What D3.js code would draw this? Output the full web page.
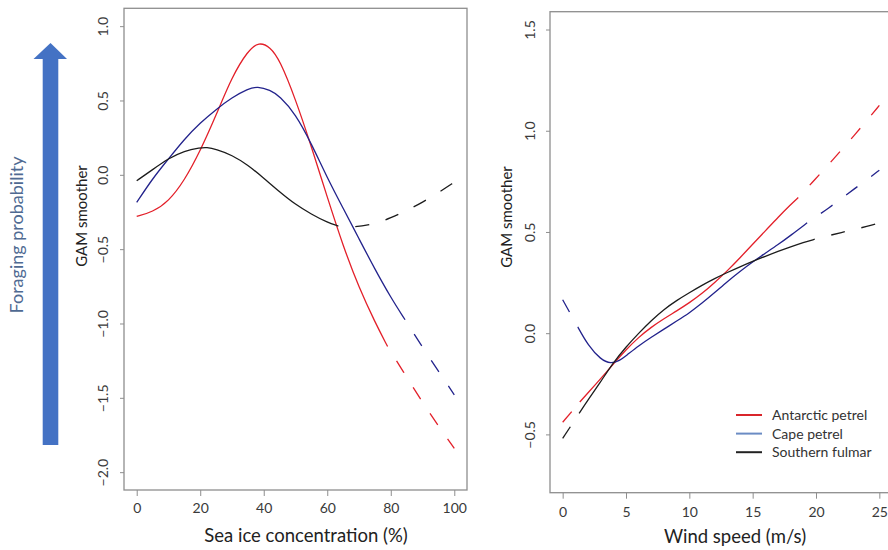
<!DOCTYPE html>
<html>
<head>
<meta charset="utf-8">
<script src="https://cdn.jsdelivr.net/npm/d3@7"></script>
<style>
  body { margin: 0; background: #fff; }
  svg { display: block; font-family: Lato, "Open Sans", sans-serif; }
</style>
</head>
<body>
<svg id="chart" width="888" height="550"></svg>
<script>
// left panel: sea ice concentration (%)
const iceTicksX = [0, 20, 40, 60, 80, 100];
const iceTicksY = [-2, -1.5, -1, -0.5, 0, 0.5, 1];
const iceRedX = [0, 5, 10, 15, 20, 25, 30, 35, 38.5, 42, 45, 50, 55, 60, 65, 70, 75, 79, 85, 90, 95, 100];
const iceRedY = [-0.28, -0.25, -0.18, -0.04, 0.16, 0.4, 0.66, 0.835, 0.895, 0.86, 0.775, 0.51, 0.19, -0.15, -0.48, -0.76, -0.99, -1.155, -1.36, -1.53, -1.69, -1.84];
const iceBlueX = [0, 5, 10, 15, 20, 25, 30, 35, 38, 42, 45, 50, 55, 60, 65, 70, 75, 80, 84.5, 90, 95, 100];
const iceBlueY = [-0.186, -0.025, 0.107, 0.24, 0.35, 0.44, 0.52, 0.578, 0.595, 0.57, 0.53, 0.41, 0.21, -0.02, -0.225, -0.43, -0.635, -0.825, -0.975, -1.16, -1.32, -1.48];
const iceBlackX = [0, 5, 10, 15, 20, 22, 25, 30, 35, 40, 45, 50, 55, 60, 63.5, 68, 75, 80, 85, 90, 95, 100];
const iceBlackY = [-0.04, 0.035, 0.11, 0.162, 0.182, 0.185, 0.172, 0.133, 0.066, -0.022, -0.115, -0.2, -0.265, -0.32, -0.345, -0.355, -0.33, -0.29, -0.24, -0.185, -0.12, -0.05];
// solid part = observed range, rest dashed
const iceSolid = { red: [0, 79], blue: [0, 84.5], black: [0, 63.5] };

// right panel: wind speed (m/s)
const windTicksX = [0, 5, 10, 15, 20, 25];
const windTicksY = [-0.5, 0, 0.5, 1, 1.5];
const windRedX = [0, 1.35, 2, 3, 4, 5, 6, 7, 8, 9, 10, 11, 12, 13, 14, 15, 16, 17, 18, 18.6, 20, 21, 22, 23, 24, 25];
const windRedY = [-0.44, -0.34, -0.295, -0.225, -0.152, -0.082, -0.02, 0.03, 0.072, 0.11, 0.15, 0.195, 0.25, 0.308, 0.372, 0.44, 0.505, 0.572, 0.635, 0.67, 0.765, 0.833, 0.905, 0.975, 1.05, 1.125];
const windBlueX = [0, 1.2, 2, 3, 3.8, 4.5, 5, 6, 7, 8, 9, 10, 11, 12, 13, 14, 15, 16, 17, 18, 19.3, 20, 21, 22, 23, 24, 25];
const windBlueY = [0.165, 0.03, -0.06, -0.13, -0.152, -0.135, -0.112, -0.062, -0.02, 0.02, 0.06, 0.1, 0.148, 0.2, 0.255, 0.305, 0.352, 0.395, 0.437, 0.483, 0.545, 0.575, 0.618, 0.665, 0.712, 0.757, 0.805];
const windBlackX = [0, 1.3, 2, 3, 4, 5, 6, 7, 8, 9, 10, 11, 12, 13, 14, 15, 16, 17, 18, 19, 19.9, 21, 22, 23, 24, 25];
const windBlackY = [-0.52, -0.396, -0.33, -0.24, -0.145, -0.068, 0.0, 0.063, 0.118, 0.162, 0.2, 0.237, 0.27, 0.3, 0.328, 0.355, 0.38, 0.404, 0.427, 0.448, 0.464, 0.482, 0.497, 0.512, 0.527, 0.545];
const windSolid = { red: [1.35, 18.6], blue: [1.2, 19.3], black: [1.3, 19.9] };

const species = ["Antarctic petrel", "Cape petrel", "Southern fulmar"];
const colors = { red: "#e3202a", blue: "#23238c", black: "#1c1c1c" };
const legendColors = ["#d9252b", "#6b8cc4", "#222222"];

const svg = d3.select("#chart");
const boxColor = "#8e8e8e";
const dash = "14 17";

function zip(xs, ys) { return xs.map((x, i) => ({ x: x, y: ys[i] })); }

function panel(opt) {
  const g = svg.append("g");
  const x = d3.scaleLinear().domain(opt.xDomain).range(opt.xRange);
  const y = d3.scaleLinear().domain(opt.yDomain).range(opt.yRange);

  const clipId = opt.id + "-clip";
  svg.append("clipPath").attr("id", clipId)
    .append("rect")
    .attr("x", opt.xRange[0]).attr("y", opt.yRange[1])
    .attr("width", opt.xRange[1] - opt.xRange[0])
    .attr("height", opt.yRange[0] - opt.yRange[1]);

  const line = d3.line().x(d => x(d.x)).y(d => y(d.y)).curve(d3.curveBasis);
  const plot = g.append("g").attr("clip-path", "url(#" + clipId + ")");

  opt.series.forEach(s => {
    const pts = zip(s.xs, s.ys);
    const lo = s.solid[0], hi = s.solid[1];
    const solid = pts.filter(d => d.x >= lo && d.x <= hi);
    const head = pts.filter(d => d.x <= lo);
    const tail = pts.filter(d => d.x >= hi);
    plot.append("path").datum(solid)
      .attr("d", line).attr("fill", "none")
      .attr("stroke", s.color).attr("stroke-width", 1.3);
    if (head.length > 1) {
      plot.append("path").datum(head)
        .attr("d", line).attr("fill", "none")
        .attr("stroke", s.color).attr("stroke-width", 1.3)
        .attr("stroke-dasharray", dash);
    }
    if (tail.length > 1) {
      plot.append("path").datum(tail)
        .attr("d", line).attr("fill", "none")
        .attr("stroke", s.color).attr("stroke-width", 1.3)
        .attr("stroke-dasharray", dash).attr("stroke-dashoffset", 14);
    }
  });

  // box
  g.append("rect")
    .attr("x", opt.xRange[0]).attr("y", opt.yRange[1])
    .attr("width", opt.xRange[1] - opt.xRange[0])
    .attr("height", opt.yRange[0] - opt.yRange[1])
    .attr("fill", "none").attr("stroke", boxColor).attr("stroke-width", 1.3);

  const xAxis = g.append("g")
    .attr("transform", "translate(0," + opt.yRange[0] + ")")
    .call(d3.axisBottom(x).tickValues(opt.xTicks).tickSize(6).tickSizeOuter(0).tickFormat(d3.format("d")));
  xAxis.select(".domain").remove();
  xAxis.selectAll("line").attr("stroke", boxColor);
  xAxis.selectAll("text")
    .attr("y", opt.xLabelOffset).attr("dy", "0.35em")
    .attr("fill", "#3a3a3a").style("font-size", "14px").style("font-family", "Lato, sans-serif");

  const yAxis = g.append("g")
    .attr("transform", "translate(" + opt.xRange[0] + ",0)")
    .call(d3.axisLeft(y).tickValues(opt.yTicks).tickSize(4).tickSizeOuter(0).tickFormat(d3.format(".1f")));
  yAxis.select(".domain").remove();
  yAxis.selectAll("line").attr("stroke", boxColor);
  yAxis.selectAll("text")
    .attr("x", 0).attr("y", 0).attr("dy", "0.35em")
    .attr("text-anchor", "middle")
    .attr("transform", "translate(" + opt.yLabelOffset + ",0) rotate(-90)")
    .attr("fill", "#3a3a3a").style("font-size", "14px").style("font-family", "Lato, sans-serif");

  g.append("text")
    .attr("transform", "translate(" + opt.yTitleX + "," + opt.yTitleY + ") rotate(-90)")
    .attr("text-anchor", "middle").attr("dy", "0.35em")
    .attr("fill", "#222").style("font-size", "15px")
    .text("GAM smoother");

  g.append("text")
    .attr("x", opt.xTitleX).attr("y", opt.xTitleY)
    .attr("text-anchor", "middle").attr("dy", "0.35em")
    .attr("fill", "#222").style("font-size", "18.5px")
    .text(opt.xTitle);

  return { x: x, y: y };
}

panel({
  id: "ice",
  xDomain: [-4, 104], xRange: [124, 467],
  yDomain: [-2.12, 1.12], yRange: [490, 8.3],
  xTicks: iceTicksX, yTicks: iceTicksY,
  xLabelOffset: 18, yLabelOffset: -21,
  yTitleX: 82, yTitleY: 216,
  xTitleX: 306, xTitleY: 536,
  xTitle: "Sea ice concentration (%)",
  series: [
    { xs: iceRedX, ys: iceRedY, color: colors.red, solid: iceSolid.red },
    { xs: iceBlueX, ys: iceBlueY, color: colors.blue, solid: iceSolid.blue },
    { xs: iceBlackX, ys: iceBlackY, color: colors.black, solid: iceSolid.black }
  ]
});

panel({
  id: "wind",
  xDomain: [-1, 26], xRange: [550, 892],
  yDomain: [-0.788, 1.588], yRange: [492.7, 11.7],
  xTicks: windTicksX, yTicks: windTicksY,
  xLabelOffset: 19, yLabelOffset: -20,
  yTitleX: 507, yTitleY: 217,
  xTitleX: 735, xTitleY: 537,
  xTitle: "Wind speed (m/s)",
  series: [
    { xs: windRedX, ys: windRedY, color: colors.red, solid: windSolid.red },
    { xs: windBlueX, ys: windBlueY, color: colors.blue, solid: windSolid.blue },
    { xs: windBlackX, ys: windBlackY, color: colors.black, solid: windSolid.black }
  ]
});

// legend
const legend = svg.append("g").attr("transform", "translate(736,415)");
species.forEach((name, i) => {
  const row = legend.append("g").attr("transform", "translate(0," + (i * 18.6) + ")");
  row.append("line").attr("x1", 0).attr("x2", 26).attr("y1", 0).attr("y2", 0)
    .attr("stroke", legendColors[i]).attr("stroke-width", 2);
  row.append("text").attr("x", 36).attr("y", 0).attr("dy", "0.35em")
    .attr("fill", "#333").style("font-size", "14px").text(name);
});

// "Foraging probability" arrow
const arrowColor = "#4472c4";
svg.append("path")
  .attr("d", "M42.7,445 L42.7,59 L33.5,59 L50.5,43 L67,59 L58.3,59 L58.3,445 Z")
  .attr("fill", arrowColor);
svg.append("text")
  .attr("transform", "translate(17,235) rotate(-90)")
  .attr("text-anchor", "middle").attr("dy", "0.35em")
  .attr("fill", "#4f6a92").style("font-size", "18px")
  .text("Foraging probability");
</script>
</body>
</html>
